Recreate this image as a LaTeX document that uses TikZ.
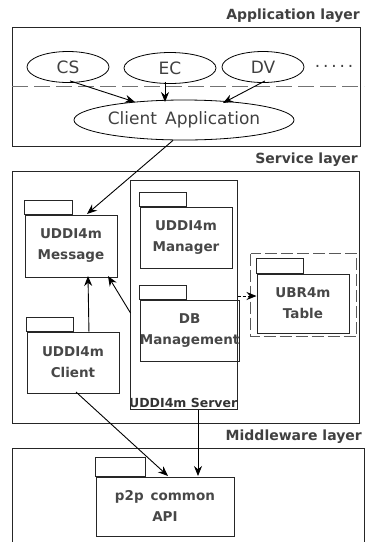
\documentclass[tikz,border=0pt]{standalone}
\usepackage{fontspec}
\setmainfont{DejaVu Sans}
\usetikzlibrary{arrows.meta,shapes.geometric}
\begin{document}
\begin{tikzpicture}[x=1pt,y=-1pt,
  frame/.style={draw,line width=0.9pt,draw=black!85},
  layerlabel/.style={anchor=south east,inner sep=1pt,font=\fontsize{14}{16}\selectfont\bfseries,text=black!75},
  app/.style={draw,ellipse,line width=0.8pt,inner sep=0pt,font=\fontsize{17}{19}\selectfont,text=black!75},
  pkg/.style={draw,line width=0.9pt,draw=black!85,anchor=north west,align=center,inner sep=0pt,
    font=\fontsize{13.5}{21}\selectfont\bfseries,text=black!72},
  tab/.style={draw,line width=0.9pt,draw=black!85},
  link/.style={line width=0.9pt,-{Stealth[length=10pt,width=8pt]}}
]
\useasboundingbox (0,0) rectangle (366,542);

% application layer
\node[layerlabel] (applbl) at (361,24) {Application layer};
\draw[frame] (12.5,27.5) rectangle (360.5,146.5);
\coordinate (dashL) at (12,86);
\coordinate (dashR) at (364,86);
\draw[line width=1pt,draw=black!55,dash pattern=on 16pt off 6pt] (dashL) -- (dashR);

\node[app,minimum width=82pt,minimum height=31pt] (cs) at (68,67) {CS};
\node[app,minimum width=92pt,minimum height=31pt] (ec) at (170,68) {EC};
\node[app,minimum width=82pt,minimum height=31pt] (dv) at (263,67) {DV};
\node[font=\fontsize{17}{19}\selectfont,text=black!75] (dots) at (334,66) {.\,.\,.\,.\,.};
\node[app,minimum width=220pt,minimum height=40pt] (ca) at (184,120) {Client\, Application};

\draw[link] (cs.south) ++(2,-2) coordinate (csS) -- (135,102) coordinate (caA);
\draw[link] (ec.south) ++(-5,-2) coordinate (ecS) -- (165,102) coordinate (caB);
\draw[link] (dv.south) ++(2,-2) coordinate (dvS) -- (223,103) coordinate (caC);

% service layer
\node[layerlabel] (svclbl) at (359,168) {Service layer};
\draw[frame] (12.5,171.5) rectangle (359.5,423.5);

% UDDI4m Server frame
\draw[frame] (130.5,180.5) rectangle (237.5,409.5);
\coordinate (srvR) at (237.5,296);
\coordinate (srvL) at (130.5,313);
\coordinate (srvB) at (198,409.5);
\node[anchor=south west,inner sep=1pt,font=\fontsize{12.5}{14}\selectfont\bfseries,text=black!80] (srvlbl) at (128,409) {UDDI4m Server};

% packages
\node[pkg,minimum width=92pt,minimum height=62pt] (msg) at (24.5,214.5) {UDDI4m\\Message};
\draw[tab] (msg.north west) rectangle ++(48,-14);

\node[pkg,minimum width=92pt,minimum height=61pt] (mgr) at (139.5,206.5) {UDDI4m\\Manager};
\draw[tab] (mgr.north west) rectangle ++(47,-14);

\node[pkg,minimum width=92pt,minimum height=61pt] (db) at (139.5,299.5) {DB\\Management};
\draw[tab] (db.north west) rectangle ++(47,-14);

\node[pkg,minimum width=92pt,minimum height=61pt] (cli) at (26.5,331.5) {UDDI4m\\Client};
\draw[tab] (cli.north west) rectangle ++(47,-14);

\draw[line width=1pt,draw=black!65,dash pattern=on 12pt off 4pt] (250.5,253.5) rectangle (356.5,336.5);
\node[pkg,minimum width=92pt,minimum height=59pt] (ubr) at (256.5,273.5) {UBR4m\\Table};
\draw[tab] (ubr.north west) rectangle ++(47,-15);

% middleware layer
\node[layerlabel] (midlbl) at (363,445) {Middleware layer};
\draw[frame] (12.5,545) -- (12.5,448.5) -- (364.5,448.5) -- (364.5,545);
\node[pkg,minimum width=138pt,minimum height=59pt] (p2p) at (95.5,476.5) {p2p\, common\\API};
\draw[tab] (p2p.north west) rectangle ++(50,-19);

% connectors
\draw[link] (ca.south) ++(-11,0) coordinate (caS) -- (87,214) coordinate (msgT);
\draw[link] (cli.north) ++(16,0) coordinate (cliT) -- (88,276) coordinate (msgB);
\draw[link] (srvL) -- (108,276) coordinate (msgB2);
\draw[line width=0.9pt,dash pattern=on 3pt off 2pt,-{Stealth[length=10pt,width=8pt]}] (srvR) -- (ubr.west |- srvR);
\draw[link] (76,392) coordinate (cliB) -- (168,476) coordinate (p2pT);
\draw[link] (srvB) -- (198,476) coordinate (p2pT2);
\end{tikzpicture}
\end{document}
